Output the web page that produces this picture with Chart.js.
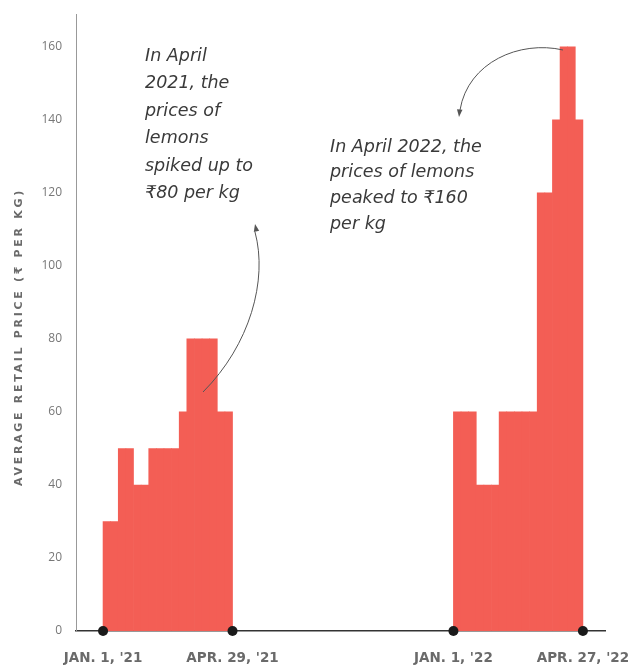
<!DOCTYPE html>
<html>
<head>
<meta charset="utf-8">
<script src="https://cdn.jsdelivr.net/npm/chart.js@4.4.1/dist/chart.umd.min.js"></script>
<style>
  html, body { margin: 0; padding: 0; background: #ffffff; }
  #wrap { width: 632px; height: 668px; }
</style>
</head>
<body>
<div id="wrap"><canvas id="chart" width="632" height="668"></canvas></div>
<script>
// Weekly average retail price of lemons (₹ per kg)
const weeks2021 = [30, 30, 50, 50, 40, 40, 50, 50, 50, 50, 60, 80, 80, 80, 80, 60, 60];
const weeks2022 = [60, 60, 60, 40, 40, 40, 60, 60, 60, 60, 60, 120, 120, 140, 160, 160, 140];
// The axis is broken between the two periods; 2022 weeks start at this index
const start2022 = 46;
const dateTicks = [-0.5, 16.5, 45.5, 62.5];
const dateLabels = ["JAN. 1, '21", "APR. 29, '21", "JAN. 1, '22", "APR. 27, '22"];
const priceTicks = [0, 20, 40, 60, 80, 100, 120, 140, 160];
const yTitle = 'AVERAGE RETAIL PRICE (₹ PER KG)';
const note2021 = ["In April", "2021, the", "prices of", "lemons", "spiked up to", "₹80 per kg"];
const note2022 = ["In April 2022, the", "prices of lemons", "peaked to ₹160", "per kg"];

const barPoints = [
  ...weeks2021.map((v, i) => ({ x: i, y: v })),
  ...weeks2022.map((v, i) => ({ x: start2022 + i, y: v }))
];

const notesPlugin = {
  id: 'notes',
  afterDatasetsDraw(chart) {
    const ctx = chart.ctx;
    ctx.save();

    // rotated axis title, letter-spaced
    ctx.save();
    ctx.translate(19, 337);
    ctx.rotate(-Math.PI / 2);
    ctx.font = 'bold 11px "DejaVu Sans", sans-serif';
    ctx.letterSpacing = '2.7px';
    ctx.fillStyle = '#6a6a6a';
    ctx.textAlign = 'center';
    ctx.textBaseline = 'middle';
    ctx.fillText(yTitle, 0, 0);
    ctx.restore();

    ctx.fillStyle = '#3a3a3a';
    ctx.font = 'oblique 17.5px "DejaVu Sans", sans-serif';
    ctx.textBaseline = 'middle';
    ctx.textAlign = 'left';
    note2021.forEach((t, i) => ctx.fillText(t, 145, 56 + i * 27.5));
    note2022.forEach((t, i) => ctx.fillText(t, 330, 147 + i * 25.7));

    ctx.strokeStyle = '#555';
    ctx.fillStyle = '#555';
    ctx.lineWidth = 1;
    // arrow from the 2021 peak up to its note
    ctx.beginPath();
    ctx.moveTo(203, 392);
    ctx.bezierCurveTo(250, 345, 268, 280, 255, 232);
    ctx.stroke();
    arrowHead(ctx, 255, 224, -Math.PI / 2 - 0.2);
    // arrow from the 2022 peak down to its note
    ctx.beginPath();
    ctx.moveTo(563, 50);
    ctx.bezierCurveTo(520, 40, 468, 62, 460, 110);
    ctx.stroke();
    arrowHead(ctx, 459, 117, Math.PI / 2 + 0.1);
    ctx.restore();
  }
};

function arrowHead(ctx, x, y, ang) {
  const len = 8, spread = 0.35;
  ctx.beginPath();
  ctx.moveTo(x, y);
  ctx.lineTo(x - len * Math.cos(ang - spread), y - len * Math.sin(ang - spread));
  ctx.lineTo(x - len * Math.cos(ang + spread), y - len * Math.sin(ang + spread));
  ctx.closePath();
  ctx.fill();
}

new Chart(document.getElementById('chart'), {
  type: 'bar',
  data: {
    datasets: [
      {
        type: 'scatter',
        data: dateTicks.map(v => ({ x: v, y: 0 })),
        pointRadius: 5,
        pointBackgroundColor: '#1a1a1a',
        pointBorderWidth: 0,
        clip: false,
        order: 1
      },
      {
        data: barPoints,
        backgroundColor: '#F35E55',
        borderWidth: 0,
        barPercentage: 1,
        categoryPercentage: 1,
        order: 2
      }
    ]
  },
  options: {
    responsive: false,
    animation: false,
    layout: { padding: { top: 14, right: 27, left: 0, bottom: 0 } },
    plugins: { legend: { display: false }, tooltip: { enabled: false } },
    scales: {
      x: {
        type: 'linear',
        offset: false,
        min: -4.05,
        max: 65.4,
        grid: { display: false, drawTicks: false, offset: false },
        border: { display: true, color: '#333', width: 1.5 },
        afterBuildTicks: s => { s.ticks = dateTicks.map(v => ({ value: v })); },
        afterFit: s => { s.height = 37; s.paddingLeft = 0; s.paddingRight = 0; },
        ticks: {
          autoSkip: false,
          maxRotation: 0,
          padding: 19,
          color: '#6a6a6a',
          font: { family: '"DejaVu Sans", sans-serif', size: 13.5, weight: 'bold' },
          callback: v => dateLabels[dateTicks.indexOf(v)]
        }
      },
      y: {
        min: 0,
        max: 169,
        grid: { display: false, drawTicks: false },
        border: { display: true, color: '#999', width: 1 },
        afterBuildTicks: s => { s.ticks = priceTicks.map(v => ({ value: v })); },
        afterFit: s => { s.width = 76; s.paddingTop = 0; s.paddingBottom = 0; },
        ticks: {
          padding: 14,
          color: '#777',
          font: { family: '"Open Sans", sans-serif', size: 12 }
        }
      }
    }
  },
  plugins: [notesPlugin]
});
</script>
</body>
</html>
